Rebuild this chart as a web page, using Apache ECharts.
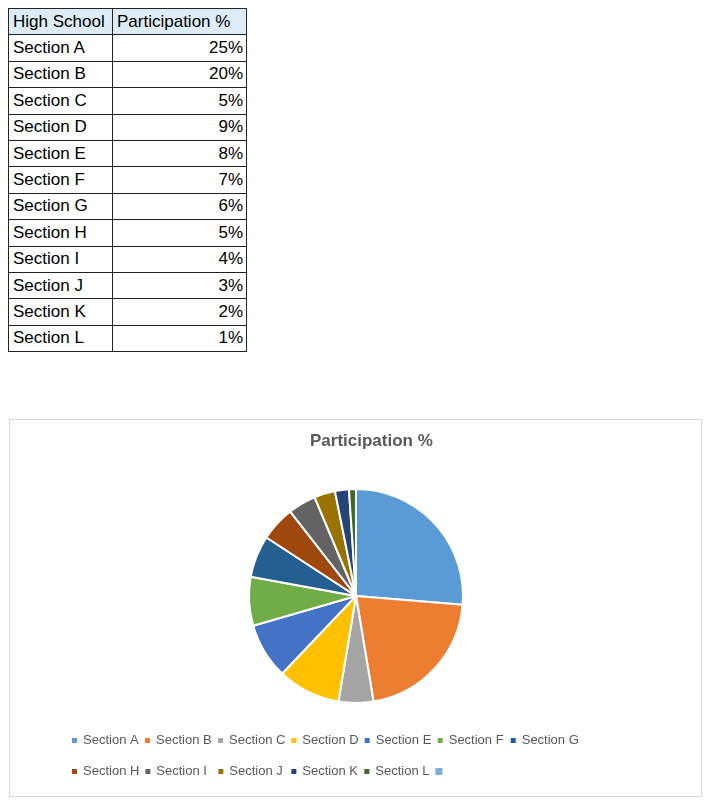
<!DOCTYPE html>
<html>
<head>
<meta charset="utf-8">
<script src="https://cdn.jsdelivr.net/npm/echarts@6/dist/echarts.min.js"></script>
<style>
    body { margin: 0; background: #fff; font-family: "Liberation Sans", Arial, sans-serif; }
    #tbl { position: absolute; left: 8px; top: 8px; border-collapse: collapse; font-size: 17px; color: #000; }
    #tbl td { border: 1px solid #222; height: 25.4px; padding: 0 3px 0 4px; line-height: 20px; white-space: nowrap; }
    #tbl tr.head td { background: #ddebf7; }
    #main { position: absolute; left: 9px; top: 419px; width: 691px; height: 376px; border: 1px solid #d9d9d9; }
</style>
</head>
<body>
<table id="tbl"></table>
<div id="main"></div>
<script>
    // 表格和饼图用的数据
    var headers = ['High School', 'Participation %'];
    var sections = ['Section A', 'Section B', 'Section C', 'Section D', 'Section E', 'Section F',
                    'Section G', 'Section H', 'Section I', 'Section J', 'Section K', 'Section L'];
    var participation = [25, 20, 5, 9, 8, 7, 6, 5, 4, 3, 2, 1];
    var colors = ['#5b9bd5', '#ed7d31', '#a5a5a5', '#ffc000', '#4472c4', '#70ad47',
                  '#255e91', '#9e480e', '#636363', '#997300', '#264478', '#43682b', '#7cafdd'];

    // 表格
    var tbl = document.getElementById('tbl');
    var html = '<tr class="head"><td style="width:96px">' + headers[0] + '</td><td style="width:126px">' + headers[1] + '</td></tr>';
    for (var i = 0; i < sections.length; i++) {
        html += '<tr><td>' + sections[i] + '</td><td style="text-align:right">' + participation[i] + '%</td></tr>';
    }
    tbl.innerHTML = html;

    // 饼图数据，最后一个是空白项（图例里有个空的）
    var pieData = [];
    for (var j = 0; j < sections.length; j++) {
        pieData.push({name: sections[j], value: participation[j]});
    }
    pieData.push({name: ' ', value: 0, itemStyle: {borderWidth: 0}});

    var myChart = echarts.init(document.getElementById('main'));
    var option = {
        animation: false,
        color: colors,
        title: {
            text: 'Participation %',
            left: 295,
            top: 8,
            textStyle: {
                fontFamily: 'Liberation Sans',
                fontSize: 17,
                fontWeight: 'bold',
                color: '#595959'
            }
        },
        legend: {
            data: pieData.map(function (d) { return d.name; }),
            left: 55,
            top: 302,
            width: 512,
            icon: 'rect',
            itemWidth: 7,
            itemHeight: 7,
            itemGap: 4,
            textStyle: {
                fontFamily: 'Liberation Sans',
                fontSize: 13,
                color: '#595959',
                width: 56,
                lineHeight: 27
            }
        },
        series: [
            {
                type: 'pie',
                center: [346, 176],
                radius: 107,
                startAngle: 90,
                clockwise: true,
                label: {show: false},
                labelLine: {show: false},
                itemStyle: {
                    borderColor: '#fff',
                    borderWidth: 2
                },
                data: pieData
            }
        ]
    };
    myChart.setOption(option);
</script>
</body>
</html>
